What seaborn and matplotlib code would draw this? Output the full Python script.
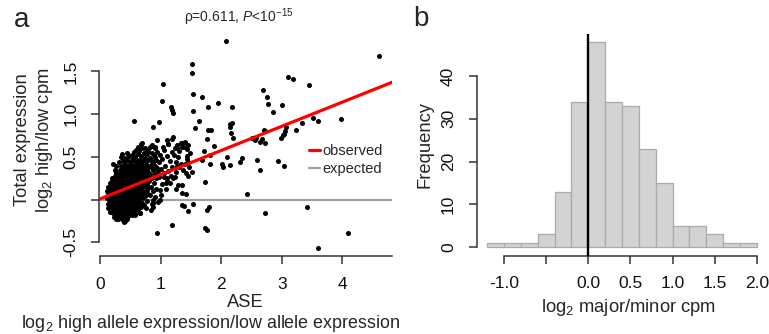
import matplotlib
matplotlib.use("Agg")
import matplotlib.pyplot as plt
import seaborn as sns
import numpy as np
import pandas as pd
from matplotlib.lines import Line2D

# ---------------- data ----------------
# panel a: dense cluster + sparse points  (ASE log2 ratio, total expression log2 ratio)
ase = [
    # cluster 0.12-0.20
    0.12, 0.13, 0.13, 0.14, 0.14, 0.15, 0.15, 0.16, 0.16, 0.16, 0.17, 0.17, 0.17, 0.18, 0.18, 0.18, 0.19, 0.19, 0.19, 0.20, 0.20, 0.20, 0.14, 0.15, 0.18, 0.12, 0.16, 0.19,
    # 0.21-0.30
    0.21, 0.21, 0.21, 0.21, 0.22, 0.22, 0.22, 0.22, 0.23, 0.23, 0.23, 0.23, 0.24, 0.24, 0.24, 0.24, 0.25, 0.25, 0.25, 0.25, 0.26, 0.26, 0.26, 0.26, 0.27, 0.27, 0.27, 0.27, 0.28, 0.28, 0.28, 0.28, 0.29, 0.29, 0.29, 0.29, 0.30, 0.30, 0.30, 0.30, 0.24, 0.27, 0.22, 0.26, 0.30,
    # 0.31-0.40
    0.31, 0.31, 0.31, 0.31, 0.32, 0.32, 0.32, 0.32, 0.33, 0.33, 0.33, 0.33, 0.34, 0.34, 0.34, 0.34, 0.35, 0.35, 0.35, 0.35, 0.36, 0.36, 0.36, 0.36, 0.37, 0.37, 0.37, 0.37, 0.38, 0.38, 0.38, 0.38, 0.39, 0.39, 0.39, 0.39, 0.40, 0.40, 0.40, 0.40, 0.32, 0.34, 0.36, 0.39, 0.38, 0.35, 0.33, 0.37, 0.40, 0.31, 0.36, 0.34, 0.39, 0.32, 0.38,
    # 0.41-0.50
    0.41, 0.41, 0.41, 0.41, 0.42, 0.42, 0.42, 0.42, 0.43, 0.43, 0.43, 0.43, 0.44, 0.44, 0.44, 0.44, 0.45, 0.45, 0.45, 0.45, 0.46, 0.46, 0.46, 0.46, 0.47, 0.47, 0.47, 0.47, 0.48, 0.48, 0.48, 0.48, 0.49, 0.49, 0.49, 0.49, 0.50, 0.50, 0.50, 0.50, 0.42, 0.45, 0.48, 0.44, 0.41, 0.43, 0.46, 0.48, 0.50, 0.47, 0.45, 0.49, 0.42, 0.44, 0.47,
    # 0.51-0.60
    0.51, 0.51, 0.51, 0.51, 0.52, 0.52, 0.52, 0.52, 0.53, 0.53, 0.53, 0.53, 0.54, 0.54, 0.54, 0.54, 0.55, 0.55, 0.55, 0.55, 0.56, 0.56, 0.56, 0.56, 0.57, 0.57, 0.57, 0.57, 0.58, 0.58, 0.58, 0.58, 0.59, 0.59, 0.59, 0.59, 0.60, 0.60, 0.60, 0.60, 0.53, 0.56, 0.59, 0.52, 0.57, 0.55, 0.58, 0.54, 0.60, 0.51,
    # 0.61-0.70
    0.61, 0.61, 0.61, 0.61, 0.62, 0.62, 0.62, 0.62, 0.63, 0.63, 0.63, 0.63, 0.64, 0.64, 0.64, 0.64, 0.65, 0.65, 0.65, 0.65, 0.66, 0.66, 0.66, 0.66, 0.67, 0.67, 0.67, 0.68, 0.68, 0.68, 0.68, 0.69, 0.69, 0.69, 0.70, 0.70, 0.70, 0.70, 0.62, 0.67,
    # 0.71-0.80
    0.71, 0.71, 0.71, 0.72, 0.72, 0.72, 0.73, 0.73, 0.73, 0.74, 0.74, 0.74, 0.75, 0.75, 0.75, 0.76, 0.76, 0.77, 0.77, 0.77, 0.78, 0.78, 0.78, 0.79, 0.79, 0.79, 0.80, 0.80, 0.80, 0.76,
    # 0.81-0.95
    0.81, 0.81, 0.82, 0.82, 0.83, 0.83, 0.84, 0.84, 0.85, 0.85, 0.86, 0.86, 0.87, 0.87, 0.88, 0.88, 0.89, 0.89, 0.90, 0.90, 0.91, 0.92, 0.92, 0.93, 0.94, 0.95, 0.95, 0.84, 0.90, 0.86,
    # 0.96-1.20
    0.97, 0.98, 0.99, 1.00, 1.02, 1.03, 1.05, 1.06, 1.08, 1.10, 1.11, 1.13, 1.15, 1.16, 1.18, 1.19, 1.04, 1.09, 1.12, 1.01,
    # ring 1.2-1.5
    1.22, 1.24, 1.25, 1.27, 1.28, 1.30, 1.31, 1.33, 1.36, 1.37, 1.40, 1.41, 1.43, 1.44, 1.46, 1.47, 1.48, 1.26, 1.42, 1.45, 1.23, 1.39,
    # sparse points
    2.08, 4.60, 1.52, 1.52, 1.04, 1.53, 1.68, 1.02, 1.17, 1.19, 1.20, 1.79, 1.94, 2.18, 1.53, 0.56, 0.87, 0.97, 1.57, 1.64,
    1.78, 1.83, 1.77, 1.88, 2.15, 2.18, 2.15, 2.16, 2.19, 2.09, 2.02, 2.03, 2.15, 2.31, 1.82, 1.82, 1.72, 1.69, 1.51, 1.73,
    1.80, 1.76, 1.19, 0.94, 1.35, 1.38, 1.46, 1.53, 2.43, 2.72, 2.69, 2.75, 2.78, 2.85, 3.00, 3.11, 3.18, 3.45, 3.51, 3.59,
    3.97, 3.34, 3.23, 3.07, 3.05, 3.02, 2.99, 3.04, 2.70, 2.72, 2.57, 2.56, 2.64, 2.67, 2.72, 2.50, 2.59, 2.64, 2.93, 3.03,
    3.42, 3.59, 4.10, 1.21, 1.19, 1.27, 1.36, 1.13, 1.43, 1.46, 1.33, 1.27, 1.17, 1.21, 1.05, 0.99, 1.29, 1.36,
    1.35, 1.42, 1.25, 1.10, 1.09, 0.94, 0.85, 0.91, 0.77, 0.91, 0.85, 0.69, 0.65, 0.94, 1.10, 0.99, 0.88, 0.88, 0.69, 0.66,
    0.58, 0.39, 0.30, 0.25, 0.20, 2.34, 1.76, 1.73,
]
total = [
    # cluster 0.12-0.20
    0.02, -0.05, 0.08, 0.15, -0.10, 0.00, 0.05, -0.03, 0.11, 0.19, -0.08, 0.03, 0.13, -0.13, 0.07, -0.01, 0.17, 0.10, -0.06, 0.02, 0.22, -0.11, 0.04, 0.12, 0.14, 0.10, -0.14, 0.25,
    # 0.21-0.30
    -0.04, 0.08, 0.16, -0.16, 0.01, 0.12, 0.24, -0.09, 0.05, -0.02, 0.19, -0.20, 0.10, 0.28, -0.12, 0.03, -0.06, 0.14, 0.21, 0.00, 0.07, -0.15, 0.17, 0.31, -0.03, 0.11, 0.25, -0.10, 0.04, 0.20, -0.18, 0.14, -0.07, 0.09, 0.27, 0.01, 0.16, -0.13, 0.22, 0.06, 0.35, 0.39, 0.42, -0.22, -0.02,
    # 0.31-0.40
    0.03, 0.19, -0.08, 0.30, -0.17, 0.10, 0.24, 0.00, 0.14, -0.04, 0.35, -0.21, 0.07, 0.20, -0.11, 0.28, 0.02, 0.16, -0.06, 0.40, 0.11, -0.15, 0.25, 0.05, -0.01, 0.18, 0.33, -0.19, 0.08, 0.22, -0.09, 0.45, 0.13, 0.01, 0.29, -0.13, 0.17, -0.05, 0.38, 0.06, 0.44, 0.50, 0.53, 0.48, -0.24, 0.23, 0.09, 0.12, 0.24, -0.14, 0.36, -0.02, -0.20, 0.17, 0.30,
    # 0.41-0.50
    0.02, 0.21, -0.11, 0.33, 0.09, -0.04, 0.15, 0.42, -0.17, 0.26, 0.04, 0.11, 0.19, -0.08, 0.36, -0.01, 0.13, 0.28, -0.14, 0.06, 0.23, -0.05, 0.40, 0.16, 0.00, 0.10, -0.19, 0.31, 0.18, 0.05, -0.10, 0.25, 0.35, -0.02, 0.12, 0.44, 0.08, 0.21, -0.15, 0.29, 0.49, 0.55, 0.51, -0.23, -0.25, 0.33, 0.07, 0.39, 0.01, 0.20, 0.47, 0.27, -0.13, 0.27, -0.07,
    # 0.51-0.60
    0.14, -0.06, 0.34, 0.03, 0.24, 0.10, -0.12, 0.41, 0.18, 0.00, 0.29, -0.18, 0.07, 0.37, 0.21, -0.04, 0.13, 0.46, 0.26, -0.09, 0.04, 0.32, 0.17, -0.14, 0.22, 0.09, 0.40, -0.02, 0.15, 0.28, -0.07, 0.50, 0.06, 0.35, 0.20, -0.11, 0.12, 0.25, 0.43, 0.01, 0.52, 0.56, 0.58, 0.47, 0.33, 0.06, -0.17, 0.30, -0.06, 0.22,
    # 0.61-0.70
    0.18, 0.31, -0.03, 0.46, 0.08, 0.24, -0.12, 0.38, 0.14, 0.53, 0.02, 0.28, 0.20, -0.07, 0.42, 0.10, 0.33, 0.16, 0.57, -0.01, 0.25, 0.05, 0.47, -0.15, 0.12, 0.37, 0.21, 0.29, 0.03, 0.51, -0.09, 0.17, 0.41, 0.08, 0.26, 0.60, -0.04, 0.34, 0.62, 0.65,
    # 0.71-0.80
    0.15, 0.45, 0.02, 0.30, 0.22, 0.55, 0.09, 0.38, -0.06, 0.26, 0.49, 0.16, 0.34, 0.04, 0.60, 0.21, 0.42, 0.11, 0.29, 0.53, -0.02, 0.36, 0.18, 0.46, 0.25, 0.07, 0.33, 0.57, 0.14, -0.10,
    # 0.81-0.95
    0.40, 0.22, 0.05, 0.49, 0.30, 0.62, 0.15, 0.38, -0.05, 0.45, 0.26, 0.55, 0.10, 0.35, 0.43, -0.08, 0.20, 0.52, 0.30, 0.60, 0.39, 0.12, 0.47, 0.25, 0.56, 0.34, -0.03, -0.12, 0.03, 0.64,
    # 0.96-1.20
    0.44, 0.27, 0.52, 0.36, 0.18, 0.48, 0.31, 0.58, 0.40, 0.25, 0.51, 0.34, 0.45, 0.19, 0.56, 0.38, 0.62, 0.12, 0.65, 0.05,
    # ring 1.2-1.5
    0.52, 0.60, 0.44, 0.64, 0.50, 0.38, 0.57, 0.66, 0.62, 0.35, 0.67, 0.42, 0.59, 0.48, 0.64, 0.38, 0.55, 0.33, 0.31, 0.28, 0.27, 0.62,
    # sparse points
    1.86, 1.68, 1.59, 1.48, 1.35, 1.24, 1.20, 1.15, 1.08, 1.05, 1.01, 1.09, 1.13, 1.08, 1.04, 0.92, 0.85, 0.91, 0.84, 0.92,
    0.82, 0.82, 0.71, 0.63, 0.89, 0.90, 0.85, 0.78, 0.72, 0.50, 0.42, 0.38, 0.41, 0.44, 0.52, 0.42, 0.57, 0.47, 0.32, 0.21,
    -0.08, -0.35, -0.30, -0.39, -0.06, -0.07, -0.13, -0.05, 0.07, -0.16, 1.28, 1.20, 1.12, 1.03, 1.11, 1.43, 1.41, 1.34, 0.96, 0.92,
    0.94, 0.90, 0.81, 0.85, 0.80, 0.76, 0.72, 0.77, 0.82, 0.80, 0.72, 0.70, 0.68, 0.71, 0.66, 0.72, 0.47, 0.35, 0.45, 0.39,
    -0.09, -0.56, -0.39, 0.73, 0.71, 0.61, 0.66, 0.65, 0.51, 0.44, 0.42, 0.39, 0.28, 0.25, 0.27, 0.11, 0.17, 0.17,
    0.08, 0.07, 0.12, 0.22, 0.19, 0.37, 0.42, 0.50, 0.56, 0.62, 0.63, 0.66, 0.59, 0.70, 0.70, 0.00, -0.04, 0.00, -0.06, -0.16,
    -0.18, -0.26, -0.23, -0.19, -0.12, 0.49, -0.12, -0.33,
]
fit_intercept = 0.01
fit_slope = 0.283
expected_level = 0.0

# panel b: histogram of log2 major/minor cpm
bin_edges = [-1.2, -1.0, -0.8, -0.6, -0.4, -0.2, 0.0, 0.2, 0.4, 0.6, 0.8, 1.0, 1.2, 1.4, 1.6, 1.8, 2.0]
bin_counts = [1, 1, 1, 3, 13, 34, 48, 34, 33, 23, 15, 5, 5, 3, 1, 1]

xticks_a = [0, 1, 2, 3, 4]
yticks_a = [-0.5, 0.0, 0.5, 1.0, 1.5]
ylabels_a = ["-0.5", "", "0.5", "1.0", "1.5"]
xticks_b = [-1.0, -0.5, 0.0, 0.5, 1.0, 1.5, 2.0]
xlabels_b = ["-1.0", "", "0.0", "0.5", "1.0", "1.5", "2.0"]
yticks_b = [0, 10, 20, 30, 40]

# ---------------- style ----------------
sns.set_style("ticks")
plt.rcParams["font.family"] = ["Liberation Sans", "DejaVu Sans"]
plt.rcParams["mathtext.fontset"] = "custom"
plt.rcParams["mathtext.rm"] = "Liberation Sans"
plt.rcParams["mathtext.it"] = "Liberation Sans:italic"
plt.rcParams["mathtext.default"] = "rm"

W, H = 769, 334
fig = plt.figure(figsize=(W / 100, H / 100), dpi=100)

def px_axes(l, t, r, b):
    return fig.add_axes([l / W, 1 - b / H, (r - l) / W, (b - t) / H])

AX_COL = "#333333"
TICK_FS = 12.5
LAB_FS = 13.2

# ---------------- panel a ----------------
axa = px_axes(99, 33, 392, 256)
df = pd.DataFrame({"ase": ase, "total": total})
sns.scatterplot(data=df, x="ase", y="total", color="black", s=13, linewidth=0, ax=axa, zorder=2)
axa.axhline(expected_level, color="#A0A0A0", lw=1.6, zorder=1)
axa.axline((0, fit_intercept), slope=fit_slope, color="#FF0000", lw=2.3, zorder=3)
axa.set_xlim(-0.0165, 4.818)
axa.set_ylim(-0.658, 1.95)
axa.set_xlabel("")
axa.set_ylabel("")
for s in ["top", "right"]:
    axa.spines[s].set_visible(False)
axa.spines["left"].set_bounds(-0.5, 1.5)
axa.spines["bottom"].set_bounds(0, 4.818)
axa.set_xticks(xticks_a)
axa.set_xticklabels([str(v) for v in xticks_a])
axa.set_yticks(yticks_a)
axa.set_yticklabels(ylabels_a, rotation=90, va="center")

leg_handles = [Line2D([0], [0], color="#FF0000", lw=2.3), Line2D([0], [0], color="#A0A0A0", lw=1.6)]
fig.legend(leg_handles, ["observed", "expected"], loc="upper left",
           bbox_to_anchor=(309 / W, 1 - 144 / H), frameon=False, fontsize=10.5,
           handlelength=0.75, handletextpad=0.15, labelspacing=0.3,
           borderpad=0, borderaxespad=0)

fig.text(239 / W, 1 - 17 / H, r"ρ=0.611, $\mathit{P}$<10$^{-15}$", ha="center", va="center", fontsize=10)
fig.text(22 / W, 1 - 20 / H, "a", ha="center", va="center", fontsize=20)
fig.text(23 / W, 1 - 140 / H, "Total expression", rotation=90, ha="center", va="center", fontsize=LAB_FS)
fig.text(45 / W, 1 - 140 / H, r"log$_2$ high/low cpm", rotation=90, ha="center", va="center", fontsize=LAB_FS)
fig.text(245 / W, 1 - 307 / H, "ASE", ha="center", va="baseline", fontsize=LAB_FS)
fig.text(211 / W, 1 - 327.5 / H, r"log$_2$ high allele expression/low allele expression", ha="center", va="baseline", fontsize=12.9)

# ---------------- panel b ----------------
axb = px_axes(476.5, 33.6, 767.5, 255.5)
centers = [(bin_edges[i] + bin_edges[i + 1]) / 2 for i in range(len(bin_counts))]
sns.histplot(x=centers, weights=bin_counts, bins=bin_edges, stat="count",
             color="#D3D3D3", edgecolor="#ABABAB", linewidth=0.9, alpha=1, ax=axb)
axb.axvline(0, color="black", lw=1.7, zorder=5)
axb.set_xlim(-1.328, 2.128)
axb.set_ylim(-1.92, 49.92)
axb.set_xlabel("")
axb.set_ylabel("")
for s in ["top", "right"]:
    axb.spines[s].set_visible(False)
axb.spines["left"].set_bounds(0, 40)
axb.spines["bottom"].set_bounds(-1, 2)
axb.set_xticks(xticks_b)
axb.set_xticklabels(xlabels_b)
axb.set_yticks(yticks_b)
axb.set_yticklabels([str(v) for v in yticks_b], rotation=90, va="center")
fig.text(421 / W, 1 - 19 / H, "b", ha="center", va="center", fontsize=20)
fig.text(425 / W, 1 - 144 / H, "Frequency", rotation=90, ha="center", va="center", fontsize=LAB_FS)
fig.text(629 / W, 1 - 308 / H, r"log$_2$ major/minor cpm", ha="center", va="center", fontsize=LAB_FS)

for ax in (axa, axb):
    for s in ["left", "bottom"]:
        ax.spines[s].set_color(AX_COL)
        ax.spines[s].set_linewidth(1.1)
    ax.tick_params(direction="out", length=5.8, width=1.1, color=AX_COL,
                   labelsize=TICK_FS, labelcolor="#111111", pad=9)

fig.savefig("out.png", dpi=100)
